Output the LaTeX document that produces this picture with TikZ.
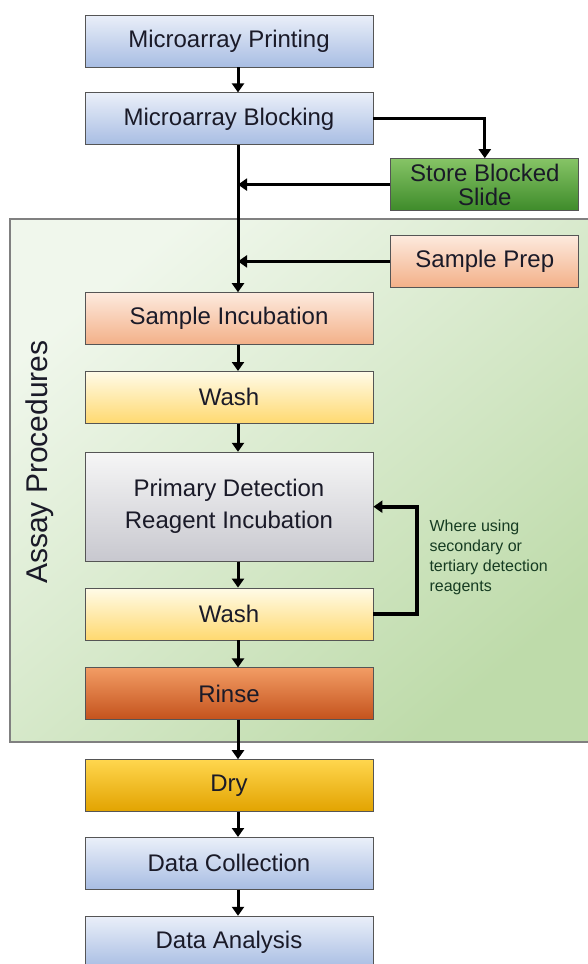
\documentclass[tikz,border=0pt]{standalone}
\usepackage{fontspec}
\setmainfont{Liberation Sans}
\definecolor{blueTop}{RGB}{234,239,249}
\definecolor{blueBot}{RGB}{168,189,227}
\definecolor{peachTop}{RGB}{253,234,222}
\definecolor{peachBot}{RGB}{243,176,136}
\definecolor{washTop}{RGB}{255,251,232}
\definecolor{washBot}{RGB}{255,217,112}
\definecolor{greyTop}{RGB}{246,246,246}
\definecolor{greyBot}{RGB}{200,200,207}
\definecolor{rinseTop}{RGB}{242,156,100}
\definecolor{rinseBot}{RGB}{196,82,28}
\definecolor{dryTop}{RGB}{255,214,78}
\definecolor{dryBot}{RGB}{226,163,0}
\definecolor{storeTop}{RGB}{134,196,102}
\definecolor{storeBot}{RGB}{62,139,42}
\definecolor{panelTop}{RGB}{240,247,236}
\definecolor{panelBot}{RGB}{190,219,170}
\definecolor{boxline}{RGB}{85,85,85}
\definecolor{txt}{RGB}{26,26,40}
\usetikzlibrary{arrows.meta, positioning, calc}

\begin{document}
\begin{tikzpicture}[x=1pt, y=1pt, node distance=26pt,
  box/.style={draw=boxline, line width=0.8pt, minimum width=288pt, minimum height=52pt, align=center, text=txt, font=\fontsize{24}{27}\selectfont},
  side/.style={box, minimum width=188pt},
  arr/.style={-{Triangle[length=9pt, width=12pt]}, line width=3pt, black}
]
  \useasboundingbox (0,0) rectangle (587,-964);
  \fill[white] (0,0) rectangle (587,-964);
  \draw[gray, line width=1.2pt, top color=panelTop, bottom color=panelBot, shading angle=40] (10,-219) rectangle (590,-742);
  \node[rotate=90, text=txt, font=\fontsize{30}{32}\selectfont] (assay) at (40,-462) {Assay Procedures};

  \node[box, top color=blueTop, bottom color=blueBot] (print) at (229,-41) {Microarray Printing};
  \node[box, top color=blueTop, bottom color=blueBot, below=25pt of print] (block) {Microarray Blocking};
  \node[side, top color=storeTop, bottom color=storeBot, font=\fontsize{24}{24}\selectfont, below right=13pt and 17pt of block] (store) {Store Blocked\\Slide};
  \node[side, top color=peachTop, bottom color=peachBot, below=24pt of store] (prep) {Sample Prep};
  \node[box, top color=peachTop, bottom color=peachBot, below=147pt of block] (incub) {Sample Incubation};
  \node[box, top color=washTop, bottom color=washBot, below=of incub] (wash) {Wash};
  \node[box, top color=greyTop, bottom color=greyBot, minimum height=109pt, font=\fontsize{24}{32}\selectfont, below=28pt of wash] (primary) {Primary Detection\\Reagent Incubation};
  \node[box, top color=washTop, bottom color=washBot, below=of primary] (washb) {Wash};
  \node[box, top color=rinseTop, bottom color=rinseBot, below=27pt of washb] (rinse) {Rinse};
  \node[box, top color=dryTop, bottom color=dryBot, below=39pt of rinse] (dry) {Dry};
  \node[box, top color=blueTop, bottom color=blueBot, below=25pt of dry] (collect) {Data Collection};
  \node[box, top color=blueTop, bottom color=blueBot, below=of collect] (analysis) {Data Analysis};

  \coordinate (spine) at ([xshift=9pt]block.south);
  \draw[arr] ([xshift=9pt]print.south) -- ([xshift=9pt]block.north);
  \draw[arr] (block.east) -| (store.north);
  \draw[arr] (spine) -- ([xshift=9pt]incub.north);
  \draw[arr] (store.west) -- (store.west -| spine);
  \draw[arr] (prep.west) -- (prep.west -| spine);
  \draw[arr] ([xshift=9pt]incub.south) -- ([xshift=9pt]wash.north);
  \draw[arr] ([xshift=9pt]wash.south) -- ([xshift=9pt]primary.north);
  \draw[arr] ([xshift=9pt]primary.south) -- ([xshift=9pt]washb.north);
  \draw[arr] ([xshift=9pt]washb.south) -- ([xshift=9pt]rinse.north);
  \draw[arr] ([xshift=9pt]rinse.south) -- ([xshift=9pt]dry.north);
  \draw[arr] ([xshift=9pt]dry.south) -- ([xshift=9pt]collect.north);
  \draw[arr] ([xshift=9pt]collect.south) -- ([xshift=9pt]analysis.north);

  \draw[arr, line width=4pt] (washb.east) -- ++(44,0) |- (primary.east);
  \node[anchor=north west, align=left, text=txt!85!green, font=\fontsize{16}{20}\selectfont] (note) at (426,-516) {Where using\\secondary or\\tertiary detection\\reagents};
\end{tikzpicture}
\end{document}
